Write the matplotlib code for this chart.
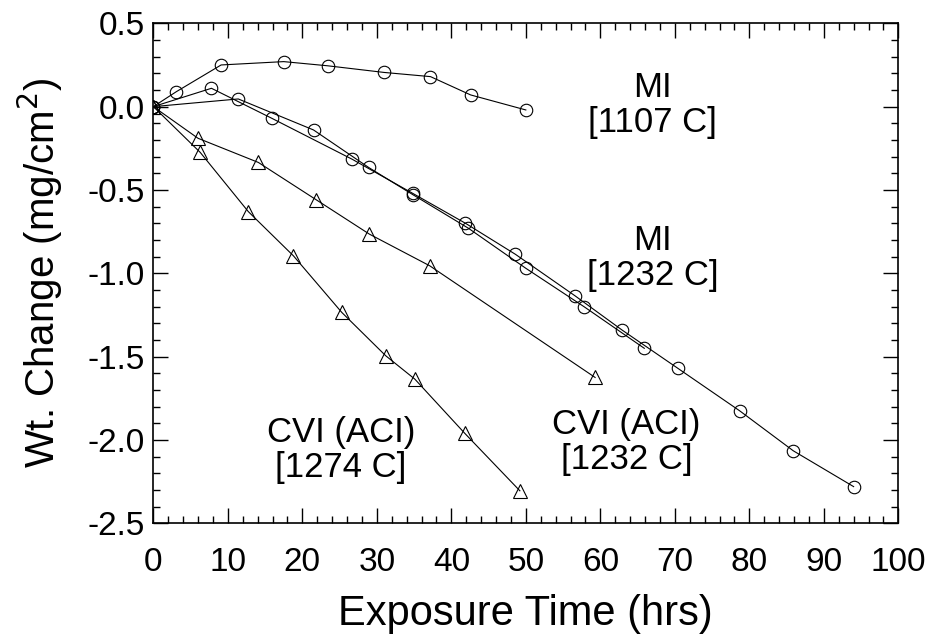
import matplotlib
matplotlib.use("Agg")
import matplotlib.pyplot as plt
from matplotlib.ticker import MultipleLocator

plt.rcParams['font.family'] = ['Liberation Sans', 'DejaVu Sans']

# MI [1107 C]
mi1107_t = [0, 3.1, 9.1, 17.5, 23.4, 31.0, 37.2, 42.6, 50.0]
mi1107_w = [0, 0.09, 0.25, 0.27, 0.245, 0.205, 0.18, 0.07, -0.02]

# MI [1232 C], specimen A
mi1232a_t = [0, 7.8, 15.9, 26.7, 34.8, 41.9, 48.6, 56.6, 62.9, 70.4, 78.7, 85.9, 94.0]
mi1232a_w = [0, 0.11, -0.07, -0.316, -0.52, -0.70, -0.886, -1.135, -1.34, -1.57, -1.825, -2.065, -2.28]

# MI [1232 C], specimen B
mi1232b_t = [0, 11.4, 21.5, 28.9, 34.9, 42.3, 50.0, 57.8, 65.9]
mi1232b_w = [0, 0.046, -0.14, -0.365, -0.53, -0.73, -0.97, -1.20, -1.45]

# CVI (ACI) [1232 C]
cvi1232_t = [0, 6.0, 14.1, 21.9, 29.0, 37.1, 59.3]
cvi1232_w = [0, -0.19, -0.335, -0.56, -0.765, -0.955, -1.625]

# CVI (ACI) [1274 C]
cvi1274_t = [0, 6.3, 12.75, 18.8, 25.3, 31.2, 35.1, 41.8, 49.2]
cvi1274_w = [0, -0.275, -0.63, -0.895, -1.235, -1.495, -1.635, -1.96, -2.305]

labels = [("MI\n[1107 C]", 67.0, 0.01),
          ("MI\n[1232 C]", 67.0, -0.91),
          ("CVI (ACI)\n[1274 C]", 25.2, -2.06),
          ("CVI (ACI)\n[1232 C]", 63.5, -2.01)]

fig = plt.figure(figsize=(9.31, 6.38), dpi=100)
ax = fig.add_axes([0.1647, 0.1798, 0.8002, 0.7837])

circ = dict(color='black', lw=0.8, marker='o', ms=9, mfc='none', mec='black', mew=0.8)
tri = dict(color='black', lw=0.8, marker='^', ms=10, mfc='none', mec='black', mew=0.8)

ax.plot(mi1107_t, mi1107_w, **circ)
ax.plot(mi1232a_t, mi1232a_w, **circ)
ax.plot(mi1232b_t, mi1232b_w, **circ)
ax.plot(cvi1232_t, cvi1232_w, **tri)
ax.plot(cvi1274_t, cvi1274_w, **tri)

for txt, x, y in labels:
    ax.text(x, y, txt, ha='center', va='center', fontsize=25, linespacing=1.08)

ax.set_xlim(0, 100)
ax.set_ylim(-2.5, 0.5)
ax.xaxis.set_major_locator(MultipleLocator(10))
ax.xaxis.set_minor_locator(MultipleLocator(2))
ax.yaxis.set_major_locator(MultipleLocator(0.5))
ax.yaxis.set_minor_locator(MultipleLocator(0.1))
ax.yaxis.set_major_formatter(plt.FuncFormatter(lambda v, p: f"{v:.1f}"))

ax.tick_params(which='both', direction='in', top=True, right=True, width=1.0, labelsize=24)
ax.tick_params(which='major', length=10.5)
ax.tick_params(which='minor', length=5)
ax.tick_params(axis='x', which='major', pad=17)
ax.tick_params(axis='y', which='major', pad=6)
for s in ax.spines.values():
    s.set_linewidth(1.2)

ax.set_xlabel("Exposure Time (hrs)", fontsize=30)
ax.set_ylabel("Wt. Change (mg/cm$^2$)", fontsize=29)
ax.xaxis.set_label_coords(0.5, -0.142)
ax.yaxis.set_label_coords(-0.118, 0.5)

fig.savefig("out.png", dpi=100)
